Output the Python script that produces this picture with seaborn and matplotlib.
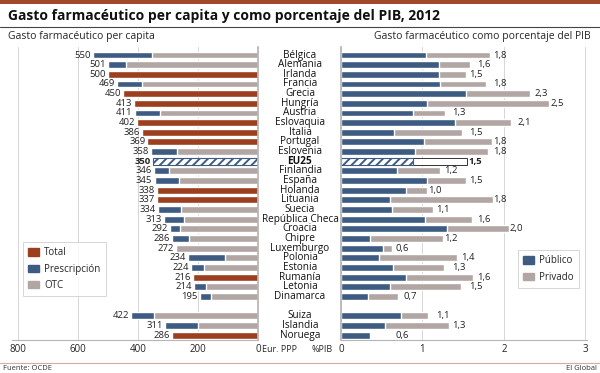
import numpy as np
import pandas as pd
import seaborn as sns
import matplotlib
matplotlib.use('Agg')
from matplotlib import pyplot as plt
from matplotlib import font_manager as fm
from matplotlib.patches import Patch, Rectangle
from matplotlib.lines import Line2D
import matplotlib.transforms as mtrans

# data
paises = ['Bélgica', 'Alemania', 'Irlanda', 'Francia', 'Grecia', 'Hungría', 'Austria',
          'Eslovaquia', 'Italia', 'Portugal', 'Eslovenia', 'EU25', 'Finlandia', 'España',
          'Holanda', 'Lituania', 'Suecia', 'República Checa', 'Croacia', 'Chipre',
          'Luxemburgo', 'Polonia', 'Estonia', 'Rumanía', 'Letonia', 'Dinamarca',
          'Suiza', 'Islandia', 'Noruega']
gasto_total = [550, 501, 500, 469, 450, 413, 411, 402, 386, 369, 358, 350, 346, 345,
               338, 337, 334, 313, 292, 286, 272, 234, 224, 216, 214, 195, 422, 311, 286]
# OTC part (nan = only the total is known)
gasto_otc = [353, 440, np.nan, 386, np.nan, np.nan, 326, np.nan, np.nan, np.nan, 270, np.nan,
             296, 263, np.nan, np.nan, 256, 246, 259, 230, 272, 110, 179, np.nan, 173, 156,
             346, 199, np.nan]
pib_publico = [1.04, 1.20, 1.20, 1.21, 1.54, 1.06, 0.88, 1.40, 0.65, 1.02, 0.91, 0.88, 0.69,
               1.05, 0.80, 0.60, 0.63, 1.03, 1.30, 0.35, 0.52, 0.47, 0.64, 0.80, 0.60, 0.33,
               0.74, 0.54, 0.35]
pib_total = [1.83, 1.58, 1.53, 1.78, 2.32, 2.55, 1.28, 2.09, 1.48, 1.85, 1.81, 1.55, 1.22,
             1.54, 1.05, 1.86, 1.13, 1.61, 2.06, 1.25, 0.63, 1.43, 1.27, 1.62, 1.47, 0.70,
             1.07, 1.32, np.nan]
pib_etiqueta = [1.8, 1.6, 1.5, 1.8, 2.3, 2.5, 1.3, 2.1, 1.5, 1.8, 1.8, 1.5, 1.2, 1.5, 1.0,
                1.8, 1.1, 1.6, 2.0, 1.2, 0.6, 1.4, 1.3, 1.6, 1.5, 0.7, 1.1, 1.3, 0.6]

MARRON, AZUL, GRIS = '#9c3f1f', '#3e5b82', '#b2a6a4'


def pick_font(*names):
    for n in names:
        try:
            fm.findfont(fm.FontProperties(family=n), fallback_to_default=False)
            return n
        except ValueError:
            pass
    return 'DejaVu Sans'


sns.set_theme(style='white')
fuente = pick_font('Liberation Sans Narrow', 'Open Sans', 'Noto Sans')
plt.rcParams['font.family'] = [fuente, 'DejaVu Sans']
plt.rcParams['hatch.linewidth'] = 1.4

df = pd.DataFrame({'pais': paises, 'total': gasto_total, 'otc': gasto_otc,
                   'publico': pib_publico, 'pib': pib_total})
df['tipo'] = np.where(df['pais'] == 'EU25', 'eu', np.where(df['otc'].isna(), 'total', 'split'))
orden = paises[:26] + [' '] + paises[26:]
pos = {p: orden.index(p) for p in paises}

fig = plt.figure(figsize=(6, 3.73), dpi=100)
axL = fig.add_axes([12 / 600, 33 / 373, 246 / 600, 293 / 373])
axR = fig.add_axes([341 / 600, 33 / 373, 246 / 600, 293 / 373])

W = 0.72
noeu = df[df['tipo'] != 'eu']
eu = df[df['tipo'] == 'eu']
common = dict(y='pais', order=orden, orient='h', width=W, errorbar=None, saturation=1)

# left chart
sns.barplot(data=noeu, x='total', hue='tipo', palette={'total': MARRON, 'split': AZUL},
            dodge=False, legend=False, ax=axL, **common)
sns.barplot(data=df[df['tipo'] == 'split'], x='otc', color=GRIS, ax=axL, **common)
sns.barplot(data=eu, x='total', color='white', edgecolor=AZUL, hatch='////', linewidth=0.8,
            ax=axL, **common)

# right chart
sns.barplot(data=noeu, x='pib', color=GRIS, ax=axR, **common)
sns.barplot(data=noeu, x='publico', color=AZUL, ax=axR, **common)
sns.barplot(data=eu, x='pib', color='white', edgecolor='#333333', linewidth=0.7, ax=axR, **common)
sns.barplot(data=eu, x='publico', color='white', edgecolor=AZUL, hatch='////', linewidth=0.8,
            ax=axR, **common)

for ax in (axL, axR):
    ax.set_ylim(29.5, -0.83)
    ax.set_yticks([])
    ax.set_xlabel('')
    ax.set_ylabel('')
    ax.set_axisbelow(True)
    ax.grid(axis='x', color='#d6d6d6', linewidth=0.7)
    ax.tick_params(axis='x', labelsize=7, length=0, pad=3, colors='#222222')
    for s in ax.spines.values():
        s.set_visible(False)
    ax.spines['bottom'].set_visible(True)
    ax.spines['bottom'].set_color('#b5b5b5')
    ax.spines['bottom'].set_linewidth(0.8)

axL.set_xlim(820, 0)
axL.set_xticks([800, 600, 400, 200, 0])
axL.spines['right'].set_visible(True)
axL.spines['right'].set_color('#b5b5b5')
axR.set_xlim(0, 3.02)
axR.set_xticks([0, 1, 2, 3])
axR.spines['left'].set_visible(True)
axR.spines['left'].set_color('#b5b5b5')

# value labels
for p, t, lab in zip(paises, gasto_total, pib_etiqueta):
    bold = 'bold' if p == 'EU25' else 'normal'
    axL.text(t + 7, pos[p], f'{t}', ha='right', va='center', fontsize=6.8,
             fontweight=bold, color='#222222')
    axR.text(lab + 0.07, pos[p], f'{lab:.1f}'.replace('.', ','), ha='left', va='center',
             fontsize=6.8, fontweight=bold, color='#222222')

# country names between the charts
tr = mtrans.blended_transform_factory(fig.transFigure, axL.transData)
for p in paises:
    axL.text(300 / 600, pos[p], p, transform=tr, ha='center', va='center', fontsize=7.2,
             fontweight='bold' if p == 'EU25' else 'normal', clip_on=False, color='#111111')

fig.text(262 / 600, 1 - 350 / 373, 'Eur. PPP', fontsize=6.5, va='center', ha='left')
fig.text(333 / 600, 1 - 350 / 373, '%PIB', fontsize=6.5, va='center', ha='right')

# legends
leg_kw = dict(loc='upper left', bbox_transform=fig.transFigure, fontsize=7, frameon=True,
              fancybox=False, handlelength=1.1, handleheight=0.75, handletextpad=0.5,
              labelspacing=0.55, borderpad=0.55, borderaxespad=0)
hL = [Patch(color=MARRON, label='Total'), Patch(color=AZUL, label='Prescripción'),
      Patch(color=GRIS, label='OTC')]
lg = axL.legend(handles=hL, bbox_to_anchor=(23 / 600, 1 - 242 / 373), **leg_kw)
lg.get_frame().set_edgecolor('#cccccc')
lg.get_frame().set_linewidth(0.7)
hR = [Patch(color=AZUL, label='Público'), Patch(color=GRIS, label='Privado')]
lg2 = axR.legend(handles=hR, bbox_to_anchor=(518 / 600, 1 - 250 / 373), **leg_kw)
lg2.get_frame().set_edgecolor('#cccccc')
lg2.get_frame().set_linewidth(0.7)

# header / footer
fig.add_artist(Rectangle((0, 1 - 4 / 373), 1, 4 / 373, transform=fig.transFigure,
                         color='#a04a2a', lw=0))
fig.text(8 / 600, 1 - 16 / 373, 'Gasto farmacéutico per capita y como porcentaje del PIB, 2012',
         fontsize=10, fontweight='bold', va='center', ha='left', color='#111111')
fig.add_artist(Line2D([0, 1], [1 - 27 / 373] * 2, transform=fig.transFigure,
                      color='#444444', lw=0.8))
fig.text(8 / 600, 1 - 37 / 373, 'Gasto farmacéutico per capita', fontsize=7.5, va='center')
fig.text(591 / 600, 1 - 37 / 373, 'Gasto farmacéutico como porcentaje del PIB', fontsize=7.5,
         va='center', ha='right')
fig.add_artist(Line2D([0, 1], [1 - 363 / 373] * 2, transform=fig.transFigure,
                      color='#d9aaa0', lw=0.8))
fig.text(3 / 600, 1 - 368.5 / 373, 'Fuente: OCDE', fontsize=5.5, va='center', color='#333333')
fig.text(597 / 600, 1 - 368.5 / 373, 'El Global', fontsize=5.5, va='center', ha='right',
         color='#333333')

fig.savefig('out.png', dpi=100)
